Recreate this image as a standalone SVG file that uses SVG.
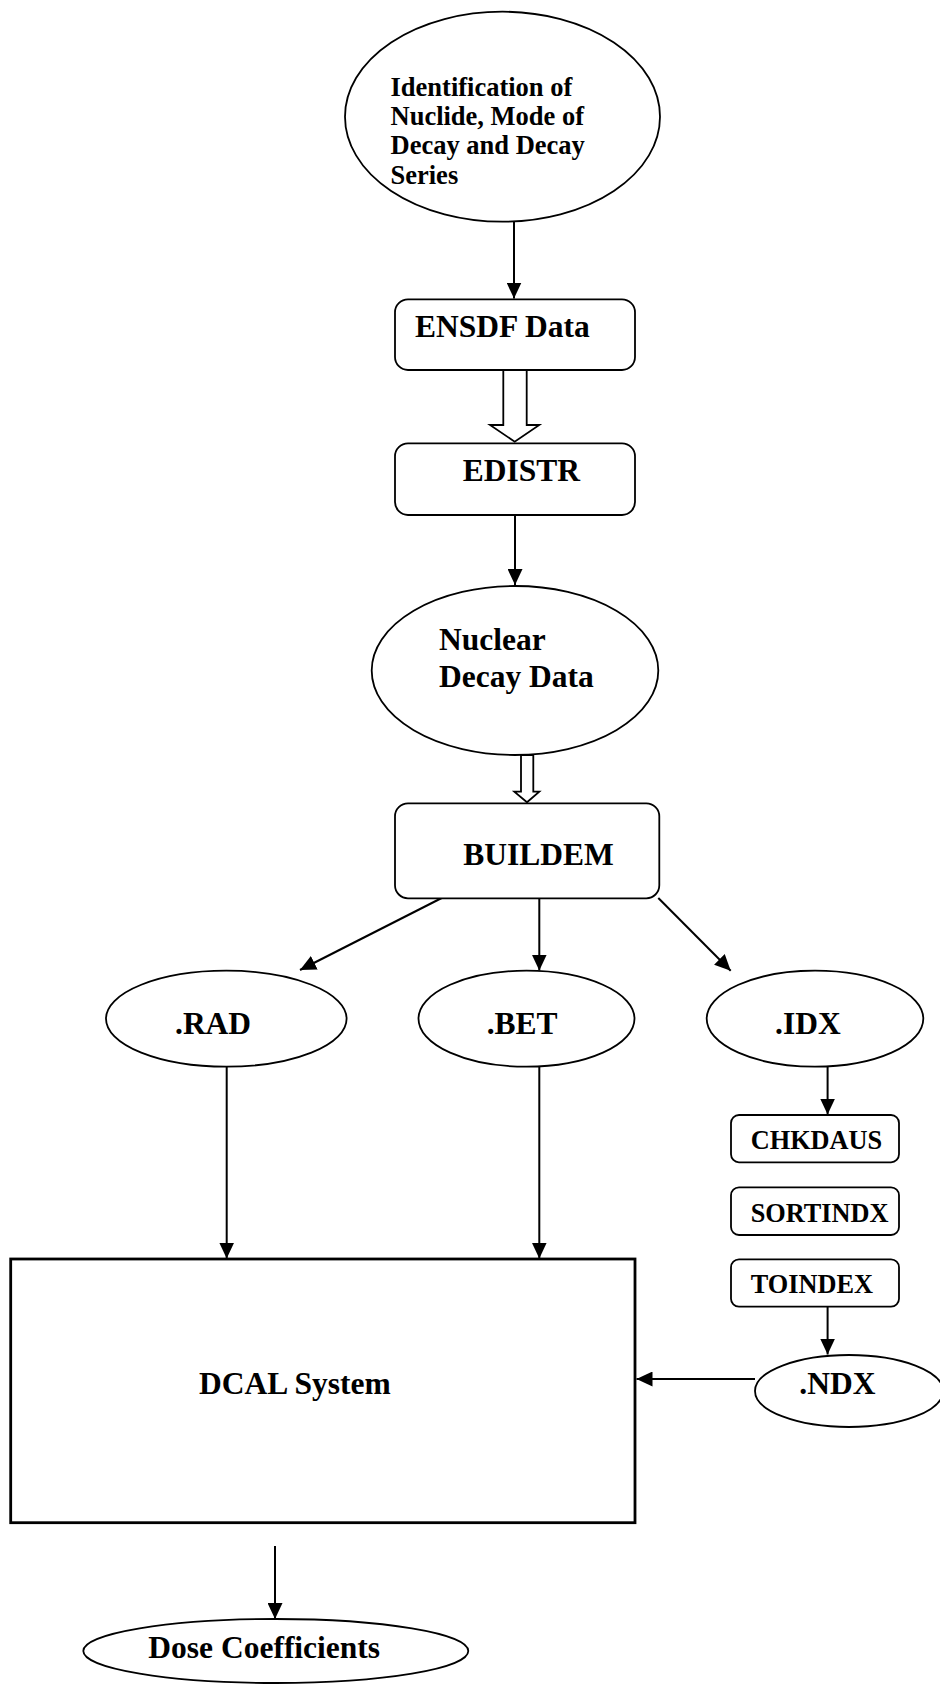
<svg xmlns="http://www.w3.org/2000/svg" width="940" height="1687" viewBox="0 0 940 1687">
<style>
  .shape { fill: #ffffff; stroke: #000000; stroke-width: 1.8; }
  .box { fill: #ffffff; stroke: #000000; stroke-width: 2.8; }
  .conn { fill: none; stroke: #000000; stroke-width: 2; }
  .hollow { fill: #ffffff; stroke: #000000; stroke-width: 1.8; stroke-linejoin: miter; }
  .t { font-family: "Liberation Serif", "Times New Roman", serif; font-weight: bold; fill: #000000; }
  .big { font-size: 31.5px; }
  .top { font-size: 26.5px; }
  .small { font-size: 26.3px; }
</style>
<defs>
  <marker id="arr" markerUnits="userSpaceOnUse" markerWidth="16" markerHeight="15" viewBox="0 0 16 15" refX="16" refY="7.5" orient="auto">
    <path d="M0,0 L16,7.5 L0,15 Z" fill="#000000"/>
  </marker>
</defs>
<rect width="940" height="1687" fill="#ffffff"/>

<g id="connectors">
  <line class="conn" x1="514" y1="222" x2="514" y2="298.5" marker-end="url(#arr)"/>
  <polygon class="hollow" points="503.3,370 526.7,370 526.7,425 539.3,425 514.7,441.7 490,425 503.3,425"/>
  <line class="conn" x1="515" y1="515" x2="515" y2="585" marker-end="url(#arr)"/>
  <polygon class="hollow" points="521,755 533.3,755 533.3,791.7 539.3,791.7 527,802.3 514.3,791.7 521,791.7"/>
  <line class="conn" x1="441.7" y1="898" x2="300" y2="970" marker-end="url(#arr)"/>
  <line class="conn" x1="539.3" y1="898" x2="539.3" y2="970.5" marker-end="url(#arr)"/>
  <line class="conn" x1="658.3" y1="898" x2="730.7" y2="970.7" marker-end="url(#arr)"/>
  <line class="conn" x1="226.7" y1="1066.7" x2="226.7" y2="1258.5" marker-end="url(#arr)"/>
  <line class="conn" x1="539.3" y1="1066.7" x2="539.3" y2="1258.5" marker-end="url(#arr)"/>
  <line class="conn" x1="827.6" y1="1066.7" x2="827.6" y2="1114.5" marker-end="url(#arr)"/>
  <line class="conn" x1="827.6" y1="1306.7" x2="827.6" y2="1354.5" marker-end="url(#arr)"/>
  <line class="conn" x1="755" y1="1379" x2="636.5" y2="1379" marker-end="url(#arr)"/>
  <line class="conn" x1="275" y1="1546" x2="275" y2="1619" marker-end="url(#arr)"/>
</g>

<g id="identification">
  <ellipse class="shape" cx="502.5" cy="116.7" rx="157.5" ry="105"/>
  <text class="t top" x="390.5" y="95.5">Identification of</text>
  <text class="t top" x="390.5" y="125">Nuclide, Mode of</text>
  <text class="t top" x="390.5" y="154.3">Decay and Decay</text>
  <text class="t top" x="390.5" y="183.5">Series</text>
</g>

<g id="ensdf">
  <rect class="shape" x="395" y="299.3" width="240" height="70.7" rx="13"/>
  <text class="t big" x="415" y="337.3">ENSDF Data</text>
</g>

<g id="edistr">
  <rect class="shape" x="395" y="443.3" width="240" height="71.7" rx="13"/>
  <text class="t big" x="462.7" y="480.7">EDISTR</text>
</g>

<g id="nuclear">
  <ellipse class="shape" cx="515" cy="670.5" rx="143.3" ry="84.5"/>
  <text class="t big" x="439" y="650">Nuclear</text>
  <text class="t big" x="439" y="687.3">Decay Data</text>
</g>

<g id="buildem">
  <rect class="shape" x="395" y="803.3" width="264.3" height="95" rx="13"/>
  <text class="t big" x="463.3" y="865">BUILDEM</text>
</g>

<g id="rad">
  <ellipse class="shape" cx="226.3" cy="1018.7" rx="120.3" ry="48"/>
  <text class="t big" x="175" y="1034">.RAD</text>
</g>

<g id="bet">
  <ellipse class="shape" cx="526.5" cy="1018.7" rx="108" ry="48"/>
  <text class="t big" x="486.7" y="1034">.BET</text>
</g>

<g id="idx">
  <ellipse class="shape" cx="815" cy="1018.7" rx="108.3" ry="48"/>
  <text class="t big" x="775" y="1034">.IDX</text>
</g>

<g id="chkdaus">
  <rect class="shape" x="731" y="1115" width="168" height="47.3" rx="8"/>
  <text class="t small" x="750.7" y="1149.3">CHKDAUS</text>
</g>

<g id="sortindx">
  <rect class="shape" x="731" y="1187.3" width="168" height="47.7" rx="8"/>
  <text class="t small" x="750.7" y="1221.7">SORTINDX</text>
</g>

<g id="toindex">
  <rect class="shape" x="731" y="1259.3" width="168" height="47.4" rx="8"/>
  <text class="t small" x="750.7" y="1293.3">TOINDEX</text>
</g>

<g id="ndx">
  <ellipse class="shape" cx="849" cy="1391" rx="94" ry="36"/>
  <text class="t big" x="799.3" y="1394">.NDX</text>
</g>

<g id="dcal">
  <rect class="box" x="10.7" y="1259" width="624.3" height="263.7"/>
  <text class="t big" x="199" y="1394.3">DCAL System</text>
</g>

<g id="dose">
  <ellipse class="shape" cx="275.8" cy="1651" rx="192.5" ry="32"/>
  <text class="t big" x="148.3" y="1658.3">Dose Coefficients</text>
</g>
</svg>
